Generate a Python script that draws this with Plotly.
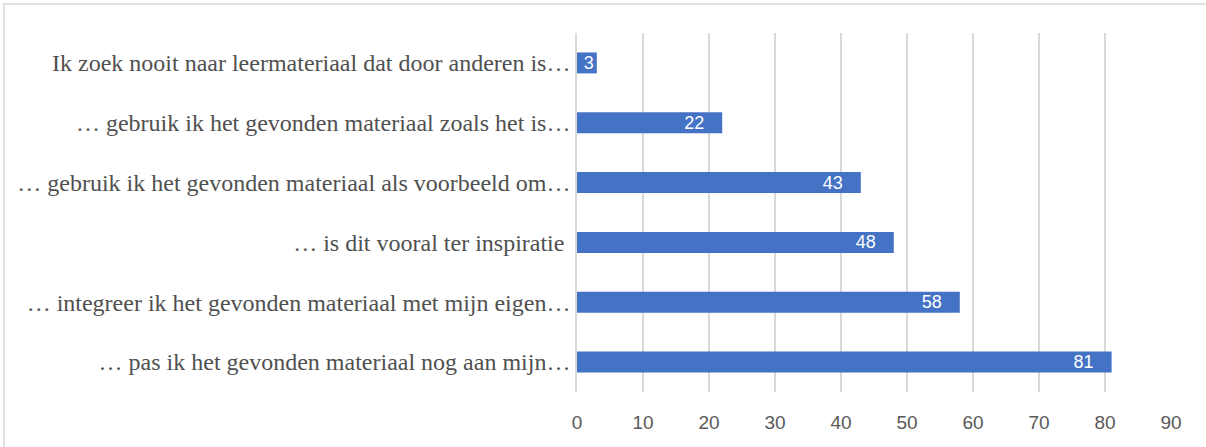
import plotly.graph_objects as go

categories = [
    "Ik zoek nooit naar leermateriaal dat door anderen is…",
    "… gebruik ik het gevonden materiaal zoals het is…",
    "… gebruik ik het gevonden materiaal als voorbeeld om…",
    "… is dit vooral ter inspiratie ",
    "… integreer ik het gevonden materiaal met mijn eigen…",
    "… pas ik het gevonden materiaal nog aan mijn…",
]
values = [3, 22, 43, 48, 58, 81]
x_ticks = [0, 10, 20, 30, 40, 50, 60, 70, 80, 90]

NB = "\u00a0"
labels = [str(v) if v < 5 else str(v) + NB * 3 for v in values]

fig = go.Figure(
    go.Bar(
        y=categories,
        x=values,
        orientation="h",
        marker=dict(color="#4472C4", line=dict(width=0)),
        text=labels,
        textposition="inside",
        insidetextanchor="end",
        textfont=dict(color="white", size=18, family="Liberation Sans"),
        constraintext="none",
        width=0.35,
        hoverinfo="skip",
    )
)

fig.update_layout(
    width=1206,
    height=447,
    margin=dict(l=577, r=35, t=33, b=55),
    paper_bgcolor="white",
    plot_bgcolor="white",
    showlegend=False,
    uniformtext=dict(minsize=18, mode="show"),
    xaxis=dict(
        range=[0, 90],
        tickvals=x_ticks,
        showgrid=True,
        gridcolor="#D9D9D9",
        gridwidth=1.5,
        zeroline=False,
        showline=False,
        ticks="",
        ticklabelstandoff=17,
        tickfont=dict(family="Liberation Sans", size=19, color="#595959"),
    ),
    yaxis=dict(
        autorange="reversed",
        showgrid=False,
        zeroline=False,
        showline=True,
        linecolor="#D9D9D9",
        linewidth=1.5,
        ticks="",
        ticklabelstandoff=0,
        tickfont=dict(family="Liberation Serif", size=24, color="#505050"),
    ),
    shapes=[
        dict(
            type="rect",
            xref="paper",
            yref="paper",
            x0=(4 - 577) / 594,
            x1=(1212 - 577) / 594,
            y0=1 - (452 - 33) / 359,
            y1=1 - (4 - 33) / 359,
            line=dict(color="#D9D9D9", width=1.5),
            fillcolor="rgba(0,0,0,0)",
            layer="below",
        )
    ],
)

fig.write_html(
    "out.html",
    config={"displayModeBar": False},
    post_script="document.body.style.margin='0';document.body.style.padding='0';",
)
